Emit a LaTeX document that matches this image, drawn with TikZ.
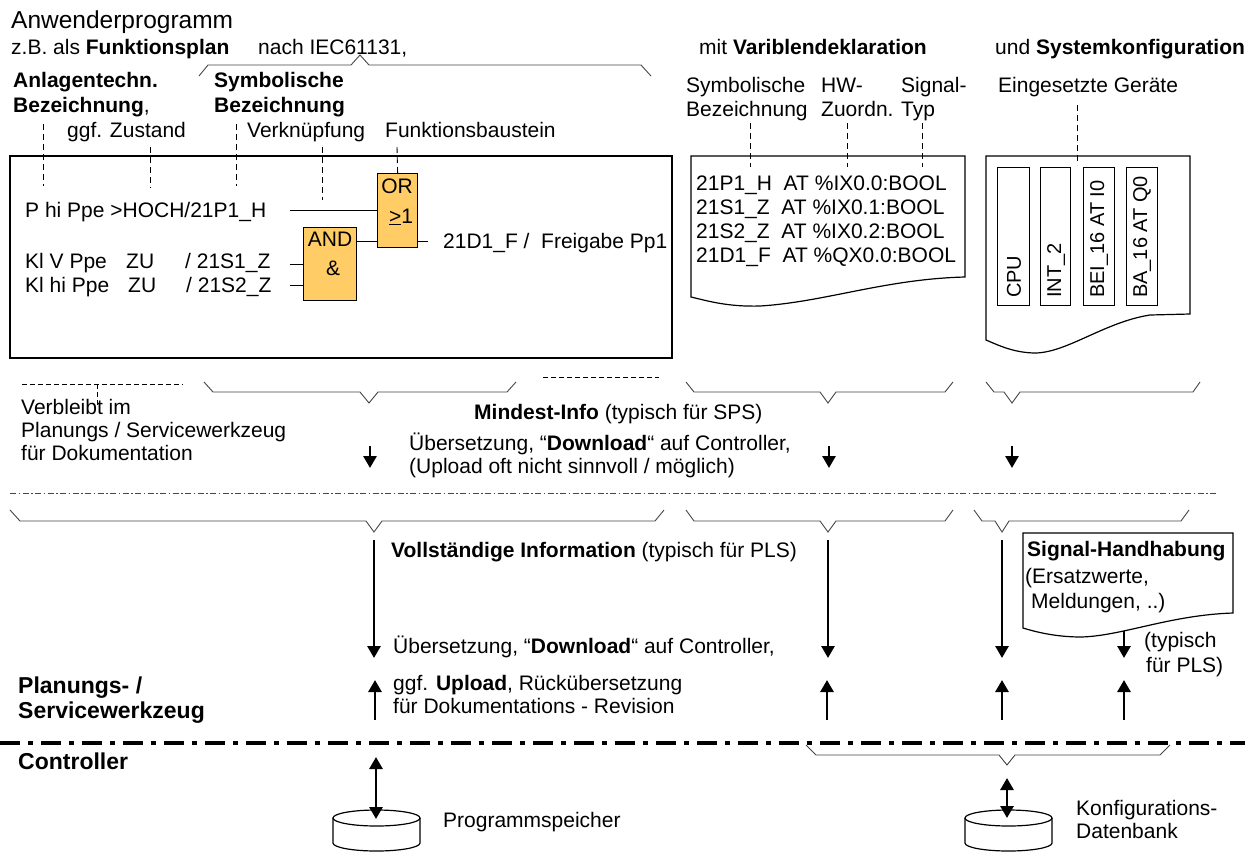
\documentclass[tikz,border=0pt]{standalone}
\usepackage{fontspec}
\setmainfont{Liberation Sans}
\usetikzlibrary{arrows.meta}
\definecolor{gatefill}{RGB}{255,204,102}
\definecolor{bracegray}{RGB}{70,70,70}

\begin{document}
\begin{tikzpicture}[x=1pt,y=-1pt,
  txt/.style={anchor=base west,inner sep=0pt,font=\fontsize{21}{25}\selectfont},
  ctxt/.style={anchor=base,inner sep=0pt,font=\fontsize{21}{25}\selectfont},
  head/.style={anchor=base west,inner sep=0pt,font=\fontsize{23}{27}\selectfont\bfseries},
  leader/.style={line width=0.9pt,dash pattern=on 6pt off 4pt},
  hdash/.style={line width=0.9pt,dash pattern=on 5pt off 3pt},
  bracket/.style={line width=0.9pt,draw=bracegray},
  arr/.style={line width=2.8pt,-{Triangle[length=12pt,width=13pt]}},
  darr/.style={line width=2.8pt,{Triangle[length=12pt,width=13pt]}-{Triangle[length=12pt,width=13pt]}},
  gatebox/.style={draw,line width=1.2pt,fill=gatefill,anchor=north west,inner sep=0pt},
  docbox/.style={draw,line width=1.2pt,fill=white},
  module/.style={draw,line width=1.2pt,anchor=north west,inner sep=0pt,minimum width=32pt,minimum height=138pt},
  modtext/.style={anchor=west,inner sep=0pt,rotate=90,font=\fontsize{20}{24}\selectfont},
]
\fill[white] (0,0) rectangle (1245,852);
\useasboundingbox (0,0) rectangle (1245,852);

% ---------- headings ----------
\node[txt,font=\fontsize{24.5}{28}\selectfont] (title) at (11,28) {Anwenderprogramm};
\node[txt] (zb) at (11,54) {z.B. als \textbf{Funktionsplan}};
\node[txt] (iec) at (258,54) {nach IEC61131,};
\node[txt] (mit) at (699,54) {mit \textbf{Variblendeklaration}};
\node[txt] (und) at (995,54) {und \textbf{Systemkonfiguration}};

% brace pointing up to the standard
\draw[bracket] (199,76) -- (208,65) -- (351,65) -- (360,55) -- (369,65) -- (641,65) -- (651,76);

\node[txt] (anl1) at (13,87) {\textbf{Anlagentechn.}};
\node[txt] (anl2) at (13,112) {\textbf{Bezeichnung},};
\node[txt] (sym1) at (214,87) {\textbf{Symbolische}};
\node[txt] (sym2) at (214,112) {\textbf{Bezeichnung}};
\node[txt] (zust) at (67,137) {ggf. Zustand};
\node[txt] (verk) at (247,137) {Verkn\"upfung};
\node[txt] (fbst) at (385,137) {Funktionsbaustein};

\node[txt] (vs1) at (686,92) {Symbolische};
\node[txt] (vs2) at (686,116) {Bezeichnung};
\node[txt] (hw1) at (821,92) {HW-};
\node[txt] (hw2) at (821,116) {Zuordn.};
\node[txt] (st1) at (901,92) {Signal-};
\node[txt] (st2) at (901,116) {Typ};
\node[txt] (ger) at (998,92) {Eingesetzte Ger\"ate};

% ---------- function block diagram ----------
\draw[line width=1.2pt] (10,156) rectangle (672,358);

\node[gatebox,minimum width=40pt,minimum height=74pt] (orgate) at (377,173) {};
\node[gatebox,minimum width=53pt,minimum height=73pt] (andgate) at (303,227) {};
\node[ctxt] (orlbl) at (397,193) {OR};
\node[ctxt] (orsym) at (401,223) {\underline{>}1};
\node[ctxt] (andlbl) at (330,246) {AND};
\node[ctxt] (andsym) at (333,275) {\&};

\node[txt] (phi) at (25,217) {P hi Ppe >HOCH/21P1\_H};
\coordinate (phiin) at (290,210);
\draw[line width=1pt] (phiin) -- (orgate.west |- phiin);

\coordinate (andout) at (356,241);
\draw[line width=1pt] (andout) -- (orgate.west |- andout);
\coordinate (orout) at (417,241);
\coordinate (orend) at (428,241);
\draw[line width=1pt] (orout) -- (orend);
\node[txt] (freig) at (443,248) {21D1\_F /\ \ Freigabe Pp1};

\node[txt] (kv1) at (25,268) {Kl V Ppe};
\node[txt] (kv2) at (126,268) {ZU};
\node[txt] (kv3) at (185,268) {/ 21S1\_Z};
\node[txt] (kh1) at (25,292) {Kl hi Ppe};
\node[txt] (kh2) at (128,292) {ZU};
\node[txt] (kh3) at (186,292) {/ 21S2\_Z};
\coordinate (in1) at (290,264);
\coordinate (in2) at (290,285);
\draw[line width=1pt] (in1) -- (andgate.west |- in1);
\draw[line width=1pt] (in2) -- (andgate.west |- in2);

% leaders from the captions into the diagram
\draw[leader] (43,124) -- (43,186);
\draw[leader] (150,147) -- (150,188);
\draw[leader] (236,124) -- (236,186);
\draw[leader] (322,147) -- (322,200);
\draw[leader] (397,147) -- (orgate.north);

% ---------- variable declaration sheet ----------
\draw[docbox] (691,156) -- (965,156) -- (965,277)
  .. controls (885,279) and (825,302) .. (760,306)
  .. controls (728,307) and (708,301) .. (691,297) -- cycle;
\node[txt] (v1) at (696,190) {21P1\_H\ \ AT \%IX0.0:BOOL};
\node[txt] (v2) at (696,214) {21S1\_Z\ \ AT \%IX0.1:BOOL};
\node[txt] (v3) at (696,238) {21S2\_Z\ \ AT \%IX0.2:BOOL};
\node[txt] (v4) at (696,262) {21D1\_F\ \ AT \%QX0.0:BOOL};
\draw[leader] (750,123) -- (750,167);
\draw[leader] (847,123) -- (847,167);
\draw[leader] (922,123) -- (922,167);

% ---------- system configuration sheet ----------
\draw[docbox] (986,156) -- (1190,156) -- (1190,314) -- (1150,315)
  .. controls (1105,322) and (1068,352) .. (1036,353)
  .. controls (1015,353) and (1000,346) .. (986,340) -- cycle;
\node[module] (m1) at (997,167) {};
\node[module,minimum width=30pt] (m2) at (1040,167) {};
\node[module,minimum width=31pt] (m3) at (1083,167) {};
\node[module,minimum width=31pt] (m4) at (1126,167) {};
\node[modtext] (t1) at (1014,298) {CPU};
\node[modtext] (t2) at (1056,298) {INT\_2};
\node[modtext] (t3) at (1099,298) {BEI\_16 AT I0};
\node[modtext] (t4) at (1142,298) {BA\_16 AT Q0};
\draw[leader] (1077,105) -- (1077,165);

% ---------- minimum information ----------
\draw[hdash] (22,384) -- (183,384);
\draw[hdash] (97,384) -- (97,407);
\draw[hdash] (543,377) -- (659,377);

\draw[bracket] (204,382) -- (213,392) -- (360,392) -- (369,403) -- (378,392) -- (507,392) -- (516,382);
\draw[bracket] (686,382) -- (694,392) -- (820,392) -- (828,403) -- (836,392) -- (945,392) -- (953,382);
\draw[bracket] (986,382) -- (994,392) -- (1004,392) -- (1012,403) -- (1020,392) -- (1193,392) -- (1200,382);

\node[txt] (vb1) at (21,414) {Verbleibt im};
\node[txt] (vb2) at (21,437) {Planungs / Servicewerkzeug};
\node[txt] (vb3) at (21,460) {f\"ur Dokumentation};

\node[txt] (mind) at (474,419) {\textbf{Mindest-Info} (typisch f\"ur SPS)};
\node[txt] (ub1) at (409,450) {\"Ubersetzung, “\textbf{Download}“ auf Controller,};
\node[txt] (ub2) at (409,473) {(Upload oft nicht sinnvoll / m\"oglich)};

\coordinate (s1a) at (370,446); \coordinate (s1b) at (370,468);
\coordinate (s2a) at (829,446); \coordinate (s2b) at (829,468);
\coordinate (s3a) at (1012,446); \coordinate (s3b) at (1012,468);
\draw[arr] (s1a) -- (s1b);
\draw[arr] (s2a) -- (s2b);
\draw[arr] (s3a) -- (s3b);

\draw[line width=0.9pt,draw=bracegray,dash pattern=on 6pt off 2.5pt on 1.5pt off 2.5pt] (10,493) -- (1218,493);

% ---------- full information ----------
\draw[bracket] (10,510) -- (20,521) -- (366,521) -- (374,532) -- (382,521) -- (655,521) -- (664,510);
\draw[bracket] (686,510) -- (694,521) -- (820,521) -- (828,532) -- (836,521) -- (945,521) -- (953,510);
\draw[bracket] (974,510) -- (982,521) -- (995,521) -- (1002,532) -- (1009,521) -- (1181,521) -- (1189,510);

\node[txt] (voll) at (391,557) {\textbf{Vollst\"andige Information} (typisch f\"ur PLS)};

\draw[docbox] (1023,533) -- (1233,533) -- (1233,613)
  .. controls (1170,615) and (1122,636) .. (1081,637)
  .. controls (1056,637) and (1036,632) .. (1023,628) -- cycle;
\node[txt] (sig1) at (1027,556) {\textbf{Signal-Handhabung}};
\node[txt] (sig2) at (1025,583) {(Ersatzwerte,};
\node[txt] (sig3) at (1031,608) {Meldungen, ..)};

\coordinate (l1a) at (374,540); \coordinate (l1b) at (374,658);
\coordinate (l2a) at (828,540); \coordinate (l2b) at (828,658);
\coordinate (l3a) at (1002,540); \coordinate (l3b) at (1002,658);
\coordinate (l4a) at (1124,631); \coordinate (l4b) at (1124,658);
\draw[arr] (l1a) -- (l1b);
\draw[arr] (l2a) -- (l2b);
\draw[arr] (l3a) -- (l3b);
\draw[arr] (l4a) -- (l4b);
\node[txt] (typ1) at (1144,647) {(typisch};
\node[txt] (typ2) at (1146,672) {f\"ur PLS)};

\node[txt] (ub3) at (393,653) {\"Ubersetzung, “\textbf{Download}“ auf Controller,};
\node[txt] (up1) at (393,690) {ggf. \textbf{Upload}, R\"uck\"ubersetzung};
\node[txt] (up2) at (393,713) {f\"ur Dokumentations - Revision};

\coordinate (u1a) at (375,720); \coordinate (u1b) at (375,680);
\coordinate (u2a) at (827,720); \coordinate (u2b) at (827,680);
\coordinate (u3a) at (1002,720); \coordinate (u3b) at (1002,680);
\coordinate (u4a) at (1124,720); \coordinate (u4b) at (1124,680);
\draw[arr] (u1a) -- (u1b);
\draw[arr] (u2a) -- (u2b);
\draw[arr] (u3a) -- (u3b);
\draw[arr] (u4a) -- (u4b);

\node[head] (pl1) at (18,693) {Planungs- /};
\node[head] (pl2) at (18,718) {Servicewerkzeug};

% ---------- boundary tool / controller ----------
\draw[line width=4pt,dash pattern=on 20pt off 8pt on 5pt off 8pt] (0,743) -- (1245,743);
\node[head] (ctrl) at (18,769) {Controller};

\draw[bracket] (806,745) -- (816,755) -- (999,755) -- (1007,765) -- (1015,755) -- (1160,755) -- (1170,745);

% program memory
\draw[line width=1.2pt,fill=white] (333,818) -- (333,843)
  arc[start angle=180,end angle=360,x radius=43.5pt,y radius=8pt] -- (420,818);
\draw[line width=1.2pt,fill=white] (376.5,818) ellipse [x radius=43.5pt,y radius=8pt];
\coordinate (pm) at (376,819);
\coordinate (pmtop) at (376,757);
\draw[darr] (pmtop) -- (pm);
\node[txt] (pmlbl) at (443,827) {Programmspeicher};

% configuration database
\draw[line width=1.2pt,fill=white] (965,818) -- (965,843)
  arc[start angle=180,end angle=360,x radius=43.5pt,y radius=8pt] -- (1052,818);
\draw[line width=1.2pt,fill=white] (1008.5,818) ellipse [x radius=43.5pt,y radius=8pt];
\coordinate (db) at (1007,818);
\coordinate (dbtop) at (1007,778);
\draw[darr] (dbtop) -- (db);
\node[txt] (db1) at (1076,815) {Konfigurations-};
\node[txt] (db2) at (1076,838) {Datenbank};
\end{tikzpicture}
\end{document}
